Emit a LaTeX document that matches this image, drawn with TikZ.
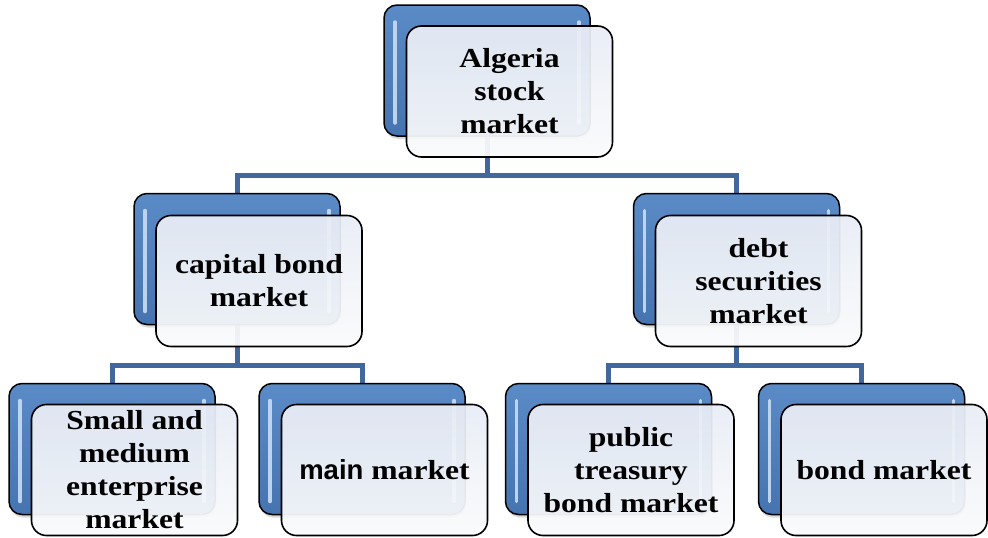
\documentclass[tikz,border=0pt]{standalone}
\usepackage{fontspec}
\setmainfont{Liberation Serif}[FakeStretch=1.15]
\newfontfamily\mainsans{Liberation Sans}
\usetikzlibrary{calc,shadows,backgrounds}
\definecolor{blueTop}{HTML}{5B8BC7}
\definecolor{blueBot}{HTML}{4574B0}
\definecolor{glossblue}{HTML}{C9DDF5}
\definecolor{connblue}{HTML}{41689E}
\definecolor{paleTop}{HTML}{E8ECF5}
\definecolor{paleBot}{HTML}{FAFBFC}
\begin{document}
\begin{tikzpicture}[x=1pt,y=-1pt,
    back/.style={draw=black,line width=1.5pt,rounded corners=13pt,inner sep=0pt,
      minimum width=206pt,minimum height=131pt,top color=blueTop,bottom color=blueBot,
      drop shadow={opacity=0.3,shadow xshift=1pt,shadow yshift=-3pt},
      path picture={
        \draw[gloss] ([xshift=11pt,yshift=-17pt]path picture bounding box.north west)
          -- ([xshift=11pt,yshift=13pt]path picture bounding box.south west);
        \draw[gloss] ([xshift=-11pt,yshift=-17pt]path picture bounding box.north east)
          -- ([xshift=-11pt,yshift=13pt]path picture bounding box.south east);}},
    front/.style={draw=black,line width=1.6pt,rounded corners=15pt,inner sep=0pt,
      minimum width=206pt,minimum height=131pt,top color=paleTop,bottom color=paleBot,
      fill opacity=0.94,draw opacity=1,text opacity=1,align=center},
    gloss/.style={glossblue,line width=3.5pt,line cap=round,opacity=0.9},
    conn/.style={connblue,line width=5pt},
    every node/.style={font=\bfseries\fontsize{27.5}{33}\selectfont}]
  \useasboundingbox (0,0) rectangle (988,538);
  % top
  \node[back] (btop) at (487,70.5) {};
  \node[front] (top) at (509.5,91.5) {Algeria\\stock\\market};
  % second row
  \node[back] (bcap) at (237,259) {};
  \node[front] (cap) at (259,281) {capital bond\\market};
  \node[back] (bdebt) at (736.5,259) {};
  \node[front] (debt) at (758.5,281) {debt\\securities\\market};
  % bottom row
  \foreach \n/\x/\txt in {sme/112/{Small and\\medium\\enterprise\\market},
      main/362/{{\mainsans main} market},
      treas/608.5/{public\\treasury\\bond market},
      bond/861.5/{bond market}}{
    \node[back] (b\n) at (\x,449) {};
    \node[front] (\n) at (\x+22.5,470) {\txt};
  }
  % connectors
  \begin{scope}[on background layer]
    \coordinate (j0) at ($(top.south)!0.5!(bcap.north)$);
    \draw[conn] (btop.center) -- (btop.center |- j0) -| (bcap.center);
    \draw[conn] (btop.center |- j0) -| (bdebt.center);
    \coordinate (j1) at ($(cap.south)!0.5!(bsme.north)$);
    \draw[conn] (bcap.center) -- (bcap.center |- j1) -| (bsme.center);
    \draw[conn] (bcap.center |- j1) -| (bmain.center);
    \draw[conn] (bdebt.center) -- (bdebt.center |- j1) -| (btreas.center);
    \draw[conn] (bdebt.center |- j1) -| (bbond.center);
  \end{scope}
\end{tikzpicture}
\end{document}
